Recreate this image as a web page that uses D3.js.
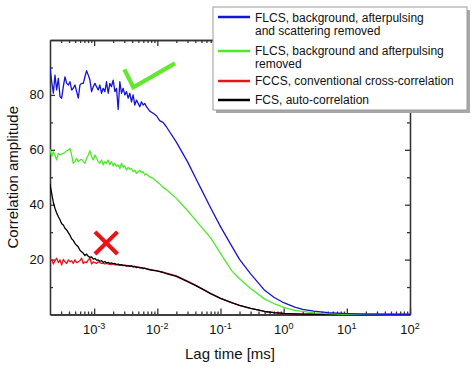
<!DOCTYPE html>
<html>
<head>
<meta charset="utf-8">
<script src="https://cdn.jsdelivr.net/npm/d3@7"></script>
<style>
  body { margin: 0; background: #fff; }
  text { font-family: "Liberation Sans", Arial, sans-serif; fill: #111; }
</style>
</head>
<body>
<div id="chart"></div>
<script>
// lag times (ms), dense part where the curves are noisy
var tauFine = [2.00e-4, 2.13e-4, 2.26e-4, 2.40e-4, 2.55e-4, 2.71e-4, 2.88e-4, 3.06e-4, 3.25e-4, 3.45e-4,
  3.67e-4, 3.90e-4, 4.14e-4, 4.40e-4, 4.67e-4, 4.97e-4, 5.28e-4, 5.61e-4, 5.96e-4, 6.33e-4,
  6.73e-4, 7.15e-4, 7.59e-4, 8.07e-4, 8.57e-4, 9.11e-4, 9.68e-4, 1.03e-3, 1.09e-3, 1.16e-3,
  1.23e-3, 1.31e-3, 1.39e-3, 1.48e-3, 1.57e-3, 1.67e-3, 1.77e-3, 1.88e-3, 2.00e-3, 2.13e-3,
  2.26e-3, 2.40e-3, 2.55e-3, 2.71e-3, 2.88e-3, 3.06e-3, 3.25e-3, 3.45e-3, 3.67e-3, 3.90e-3,
  4.14e-3, 4.40e-3, 4.67e-3, 4.97e-3, 5.28e-3, 5.61e-3, 5.96e-3, 6.33e-3, 6.73e-3];
// lag times (ms), smooth decay
var tauTail = [7.59e-3, 8.57e-3, 9.68e-3, 1.09e-2, 1.23e-2, 1.39e-2, 2e-2, 3e-2, 4e-2, 5e-2,
  7e-2, 0.1, 0.15, 0.2, 0.3, 0.5, 0.7, 1, 1.5, 2, 3, 5, 10, 20, 50, 100];

var blueFine = [89.7, 84.8, 80.6, 87.2, 81.8, 86.0, 79.4, 78.8, 83.0, 86.6,
  84.2, 83.6, 84.8, 81.8, 82.4, 83.6, 81.2, 78.8, 83.6, 84.2,
  84.2, 86.6, 88.8, 87.2, 85.4, 81.2, 83.0, 84.2, 83.0, 81.8,
  83.6, 80.6, 82.4, 81.2, 84.8, 80.6, 84.2, 83.0, 85.4, 81.2,
  82.4, 74.7, 84.8, 80.6, 82.4, 80.0, 81.2, 78.8, 80.6, 77.5,
  80.0, 76.3, 78.1, 76.9, 75.7, 77.5, 76.3, 76.9, 75.7];
var blueTail = [74.1, 73.3, 72.4, 70.6, 70.0, 68.4, 62.8, 55.7, 49.9, 45.5,
  38.8, 32.0, 25.0, 20.1, 14.8, 8.8, 6.3, 4.3, 2.7, 1.9, 1.2, 0.7, 0.35, 0.15, 0.05, 0];

var greenFine = [60.2, 57.5, 59.3, 58.1, 56.3, 58.7, 58.1, 58.5, 58.7, 59.0,
  59.7, 59.9, 60.5, 58.1, 55.1, 55.7, 56.9, 55.7, 56.3, 56.5,
  55.7, 55.1, 56.9, 58.1, 59.7, 57.5, 56.3, 58.1, 56.9, 55.7,
  55.1, 56.3, 54.5, 55.7, 55.1, 56.3, 54.5, 55.7, 54.1, 55.1,
  53.9, 54.5, 53.2, 55.1, 53.6, 54.1, 52.6, 53.6, 52.9, 53.2,
  52.0, 52.6, 51.4, 52.0, 52.6, 51.7, 52.0, 50.8, 51.2];
var greenTail = [50.1, 49.6, 48.5, 47.6, 46.3, 45.5, 42.3, 37.9, 34.5, 31.8,
  27.9, 22.3, 16.0, 13.0, 9.5, 5.6, 4.0, 2.6, 1.5, 1.1, 0.6, 0.3, 0.1, 0.05, 0, 0];

var redFine = [19.9, 20.1, 18.4, 19.6, 20.5, 18.9, 19.9, 18.0, 20.1, 19.2,
  18.6, 19.9, 19.2, 19.6, 18.6, 19.9, 18.9, 19.2, 19.6, 20.5,
  18.6, 19.2, 18.9, 19.9, 20.5, 18.4, 19.2, 18.9, 18.6, 19.2,
  18.9, 18.6, 18.6, 18.4, 18.6, 18.4, 18.3, 18.2, 18.4, 18.1,
  18.2, 18.0, 18.1, 17.9, 18.0, 17.8, 17.9, 17.7, 17.8, 17.6,
  17.6, 17.4, 17.4, 17.2, 17.2, 17.0, 17.0, 16.8, 16.7];
var redTail = [16.4, 16.2, 16.0, 15.7, 15.4, 15.1, 14.1, 12.2, 10.7, 9.5,
  7.6, 5.9, 4.3, 3.3, 2.2, 1.1, 0.7, 0.4, 0.25, 0.15, 0.1, 0.05, 0, 0, 0, 0];

var blackFine = [47.5, 44.0, 40.8, 38.6, 37.0, 35.6, 34.5, 33.1, 32.6, 31.4,
  30.8, 29.8, 28.9, 27.6, 27.0, 25.9, 25.2, 24.6, 23.4, 22.9,
  22.3, 21.5, 22.0, 21.2, 20.8, 21.0, 20.2, 20.4, 19.8, 19.9,
  19.4, 19.6, 19.0, 19.3, 18.8, 19.0, 18.6, 18.8, 18.5, 18.6,
  18.2, 18.4, 18.0, 18.2, 17.8, 18.0, 17.6, 17.8, 17.5, 17.7,
  17.3, 17.5, 17.1, 17.3, 17.0, 17.1, 16.7, 16.9, 16.6];
var blackTail = [16.3, 16.1, 15.9, 15.6, 15.3, 14.9, 13.9, 12.0, 10.6, 9.4,
  7.6, 5.9, 4.3, 3.3, 2.2, 1.1, 0.7, 0.4, 0.25, 0.15, 0.1, 0.05, 0, 0, 0, 0];

var legendLabels = [
  ["FLCS, background, afterpulsing", "and scattering removed"],
  ["FLCS, background and afterpulsing", "removed"],
  ["FCCS, conventional cross-correlation"],
  ["FCS, auto-correlation"]
];
var majorX = [1e-3, 1e-2, 1e-1, 1e0, 1e1, 1e2];
var majorY = [20, 40, 60, 80];
var minorY = [10, 30, 50, 70, 90];

// annotation marks in data coordinates [tau, amplitude]
var checkMark = [[3.0e-3, 89.3], [4.17e-3, 82.8], [1.9e-2, 91.5]];
var crossMark = [[[1.03e-3, 30.1], [2.34e-3, 22.0]], [[1.03e-3, 22.0], [2.34e-3, 30.1]]];

var W = 474, H = 369;
var plotL = 50, plotR = 410, plotT = 40, plotB = 314.5;

var svg = d3.select("#chart").append("svg")
  .attr("width", W).attr("height", H);

var x = d3.scaleLog().domain([2e-4, 100]).range([plotL, plotR]);
var y = d3.scaleLinear().domain([0, 100]).range([plotB, plotT]);

var minorX = [];
[1e-4, 1e-3, 1e-2, 1e-1, 1, 10].forEach(function(dec) {
  for (var m = 2; m <= 9; m++) {
    var v = dec * m;
    if (v > 2.01e-4 && v < 100) minorX.push(v);
  }
});

var axisColor = "#333";

function styleAxis(g) {
  g.selectAll("path, line").attr("stroke", axisColor).attr("stroke-width", 1.3);
  g.selectAll("text").remove();
}

// minor ticks
svg.append("g").attr("transform", "translate(0," + plotB + ")")
  .call(d3.axisBottom(x).tickValues(minorX).tickSizeInner(-3).tickSizeOuter(0))
  .call(styleAxis);
svg.append("g").attr("transform", "translate(0," + plotT + ")")
  .call(d3.axisTop(x).tickValues(minorX).tickSizeInner(-3).tickSizeOuter(0))
  .call(styleAxis);
svg.append("g").attr("transform", "translate(" + plotL + ",0)")
  .call(d3.axisLeft(y).tickValues(minorY).tickSizeInner(-3).tickSizeOuter(0))
  .call(styleAxis);
svg.append("g").attr("transform", "translate(" + plotR + ",0)")
  .call(d3.axisRight(y).tickValues(minorY).tickSizeInner(-3).tickSizeOuter(0))
  .call(styleAxis);

// major ticks
svg.append("g").attr("transform", "translate(0," + plotB + ")")
  .call(d3.axisBottom(x).tickValues(majorX).tickSizeInner(-6).tickSizeOuter(0))
  .call(styleAxis);
svg.append("g").attr("transform", "translate(0," + plotT + ")")
  .call(d3.axisTop(x).tickValues(majorX).tickSizeInner(-6).tickSizeOuter(0))
  .call(styleAxis);
svg.append("g").attr("transform", "translate(" + plotL + ",0)")
  .call(d3.axisLeft(y).tickValues(majorY).tickSizeInner(-5).tickSizeOuter(0))
  .call(styleAxis);
svg.append("g").attr("transform", "translate(" + plotR + ",0)")
  .call(d3.axisRight(y).tickValues(majorY).tickSizeInner(-5).tickSizeOuter(0))
  .call(styleAxis);

// tick labels
svg.append("g").selectAll("text").data(majorY).enter().append("text")
  .attr("x", plotL - 6).attr("y", function(d) { return y(d); })
  .attr("dy", "0.35em").attr("text-anchor", "end")
  .style("font-size", "13px").text(function(d) { return d; });

var xl = svg.append("g").selectAll("text").data(majorX).enter().append("text")
  .attr("x", function(d) { return x(d); }).attr("y", plotB + 19)
  .attr("text-anchor", "middle").style("font-size", "13px");
xl.append("tspan").text("10");
xl.append("tspan").attr("dy", "-0.5em").style("font-size", "9px")
  .text(function(d) { return Math.round(Math.log10(d)); });

// axis titles
svg.append("text").attr("x", (plotL + plotR) / 2).attr("y", 359)
  .attr("text-anchor", "middle").style("font-size", "15px").text("Lag time [ms]");
svg.append("text").attr("transform", "translate(18," + (plotT + plotB) / 2 + ") rotate(-90)")
  .attr("text-anchor", "middle").style("font-size", "15px").text("Correlation amplitude");

// curves
var series = [
  {fine: redFine, tail: redTail, color: "#e8141a"},
  {fine: blackFine, tail: blackTail, color: "#000000"},
  {fine: greenFine, tail: greenTail, color: "#4ee82a"},
  {fine: blueFine, tail: blueTail, color: "#1414d8"}
];
var tauAll = tauFine.concat(tauTail);

svg.append("clipPath").attr("id", "clip").append("rect")
  .attr("x", plotL).attr("y", plotT - 2).attr("width", plotR - plotL).attr("height", plotB - plotT + 4);

var line = d3.line()
  .x(function(d) { return x(d[0]); })
  .y(function(d) { return y(d[1]); });

svg.append("g").attr("clip-path", "url(#clip)")
  .selectAll("path").data(series).enter().append("path")
  .attr("d", function(s) {
    var vals = s.fine.concat(s.tail);
    return line(tauAll.map(function(t, i) { return [t, vals[i]]; }));
  })
  .attr("fill", "none")
  .attr("stroke", function(s) { return s.color; })
  .attr("stroke-width", 1.3)
  .attr("stroke-linejoin", "round");

// check mark and cross
svg.append("path").attr("d", line(checkMark))
  .attr("fill", "none").attr("stroke", "#62e82c").attr("stroke-width", 4.2);
svg.append("g").selectAll("path").data(crossMark).enter().append("path")
  .attr("d", function(d) { return line(d); })
  .attr("fill", "none").attr("stroke", "#e8141a").attr("stroke-width", 4.2);

// legend
var lg = svg.append("g");
lg.append("rect").attr("x", 216).attr("y", 10).attr("width", 254).attr("height", 103)
  .attr("fill", "#a8a8a8");
lg.append("rect").attr("x", 213).attr("y", 7).attr("width", 254).attr("height", 103)
  .attr("fill", "#fff").attr("stroke", "#9a9a9a").attr("stroke-width", 1);

var lineY = [17, 51, 81, 100];
var textY = [[22, 35], [55, 68], [85], [104]];
var legendColors = ["#1414d8", "#4ee82a", "#e8141a", "#000000"];

legendLabels.forEach(function(lines, i) {
  lg.append("line").attr("x1", 218).attr("x2", 250)
    .attr("y1", lineY[i]).attr("y2", lineY[i])
    .attr("stroke", legendColors[i]).attr("stroke-width", 2.5);
  lines.forEach(function(t, j) {
    lg.append("text").attr("x", 255).attr("y", textY[i][j])
      .style("font-size", "12px").text(t);
  });
});
</script>
</body>
</html>
